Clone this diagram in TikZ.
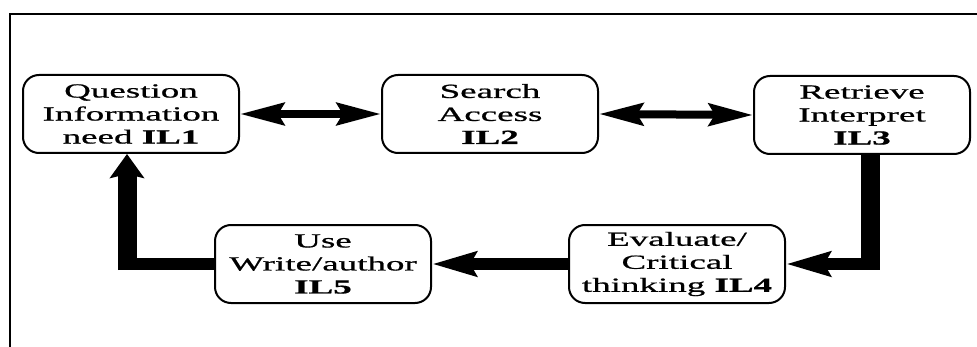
\documentclass[tikz,border=0pt]{standalone}
\usepackage{fontspec}
\setmainfont{Liberation Serif}[FakeStretch=1.85,FakeBold=0.8]
\usetikzlibrary{arrows.meta}

\begin{document}
\begin{tikzpicture}[x=0.5pt,y=-0.5pt,
  ilbox/.style={draw, line width=1pt, rounded corners=8pt, fill=white,
    minimum width=108pt, minimum height=39pt, inner sep=1pt, align=center,
    font=\fontsize{10pt}{11.5pt}\selectfont},
  twoway/.style={line width=4pt,
    {Stealth[length=22pt,width=11pt,inset=3pt]}-{Stealth[length=22pt,width=11pt,inset=3pt]}},
  hflow/.style={line width=6pt},
  vflow/.style={line width=9.5pt},
  htip/.style={-{Stealth[length=22pt,width=12pt,inset=3pt]}},
  vtip/.style={-{Stealth[length=12pt,width=17pt,inset=2pt]}}]

\useasboundingbox (0,0) rectangle (977,347);

% cornice
\draw[line width=1.2pt] (977,14) -- (10,14) -- (10,347);

% riga sopra
\node[ilbox] (IL1) at (131,114) {Question\\Information\\need \textbf{IL1}};
\node[ilbox] (IL2) at (490,114) {Search\\Access\\\textbf{IL2}};
\node[ilbox] (IL3) at (862,115) {Retrieve\\Interpret\\\textbf{IL3}};

% riga sotto
\node[ilbox] (IL4) at (677,264) {Evaluate/\\Critical\\thinking \textbf{IL4}};
\node[ilbox] (IL5) at (323,264) {Use\\Write/author\\\textbf{IL5}};

% frecce doppie
\draw[twoway] (IL1.east) -- (IL2.west);
\draw[twoway] (IL2.east) -- (IL3.west);

% ciclo
\coordinate (c3) at ([xshift=4pt]IL3.south |- IL4.east);
\draw[vflow] ([xshift=4pt]IL3.south) -- ([yshift=-3pt]c3);
\draw[hflow, htip] ([xshift=4.75pt]c3) -- (IL4.east);
\draw[hflow, htip] (IL4.west) -- (IL5.east);
\coordinate (c5) at ([xshift=-2pt]IL1.south |- IL5.west);
\draw[hflow] (IL5.west) -- ([xshift=-4.75pt]c5);
\draw[vflow, vtip] ([yshift=-3pt]c5) -- ([xshift=-2pt]IL1.south);

\end{tikzpicture}
\end{document}
